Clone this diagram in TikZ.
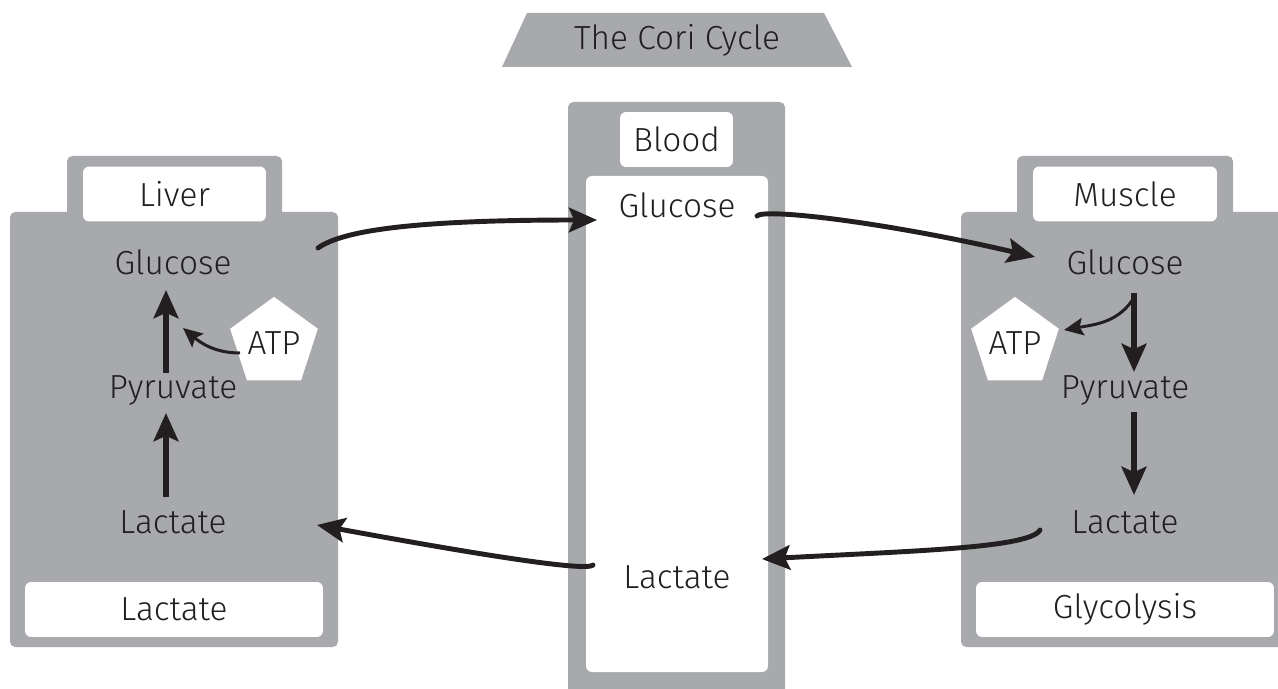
\documentclass[tikz,border=0pt]{standalone}
\usepackage{fontspec}
\setmainfont{Fira Sans Light}
\usetikzlibrary{arrows.meta,shapes.geometric,calc}
\definecolor{panel}{HTML}{A7A9AC}
\definecolor{ink}{HTML}{231F20}

\begin{document}
\begin{tikzpicture}[x=0.02cm,y=-0.02cm,
  txt/.style={text=ink,font=\fontsize{19}{22}\selectfont,inner sep=0pt},
  tag/.style={txt,fill=white,rounded corners=3.5pt,minimum height=1.1cm},
  atp/.style={txt,regular polygon,regular polygon sides=5,fill=white,minimum size=1.72cm},
  flow/.style={draw=ink,line width=3.4pt,-{Stealth[length=16pt,width=14pt,inset=3pt]}},
  link/.style={draw=ink,line width=2.8pt,line cap=round,-{Stealth[length=16pt,width=14pt,inset=3pt]}},
  side/.style={draw=ink,line width=1.7pt,-{Stealth[length=11pt,width=10pt,inset=2pt]}}]
  \useasboundingbox (0,0) rectangle (1278,689);
  \begin{scope}
    \clip (0,0) rectangle (1278,689);
    % grey panels
    \fill [panel] (502,67) -- (527,13) -- (824,13) -- (852,67) -- cycle;
    \fill [panel,rounded corners=3pt] (67,156) rectangle (282,260);
    \fill [panel,rounded corners=3pt] (10,212) rectangle (338,647);
    \fill [panel,rounded corners=3pt] (568,102) rectangle (785,720);
    \fill [white,rounded corners=3.5pt] (586,176) rectangle (768,672);
    \fill [panel,rounded corners=3pt] (1017,156) rectangle (1233,260);
    \fill [panel,rounded corners=3pt] (961,212) rectangle (1300,647);
  \end{scope}

  \node [txt] (title) at (677,40) {The Cori Cycle};

  % liver
  \node [tag,minimum width=3.66cm] (liver) at (174.5,194) {Liver};
  \node [tag,minimum width=5.96cm] (llabel) at (174,609.5) {Lactate};
  \node [txt] (lglu) at (173,262) {Glucose};
  \node [txt] (lpyr) at (173,390) {Pyruvate};
  \node [txt] (llac) at (173,522) {Lactate};
  \node [atp] (latp) at (274,343) {ATP};

  % blood
  \node [tag,minimum width=2.26cm] (blood) at (676.5,139.5) {Blood};
  \node [txt] (bglu) at (677,205) {Glucose};
  \node [txt] (blac) at (677,577) {Lactate};

  % muscle
  \node [tag,minimum width=3.68cm] (muscle) at (1125,194) {Muscle};
  \node [tag,minimum width=5.96cm] (mlabel) at (1125,609.5) {Glycolysis};
  \node [txt] (mglu) at (1125,262) {Glucose};
  \node [txt] (mpyr) at (1125,390) {Pyruvate};
  \node [txt] (mlac) at (1125,522) {Lactate};
  \node [atp] (matp) at (1015,343) {ATP};

  % liver steps
  \draw [flow] ($(llac)+(-7,-25)$) -- ($(lpyr)+(-7,23)$);
  \draw [flow] ($(lpyr)+(-7,-17)$) -- ($(lglu)+(-7,28)$);
  \draw [side] ($(latp)+(-34,10)$) to [out=180,in=-40] ($(lglu)+(10,66)$);

  % muscle steps
  \draw [flow] ($(mglu)+(9,31)$) -- ($(mpyr)+(9,-18)$);
  \draw [flow] ($(mpyr)+(9,22)$) -- ($(mlac)+(9,-27)$);
  \draw [side] ($(mglu)+(10,34)$) to [out=240,in=10] ($(matp)+(49,-13)$);

  % through the blood
  \draw [link] ($(lglu)+(145,-14)$) .. controls +(25,-18) and +(-180,0) .. ($(bglu)+(-80,15)$);
  \draw [link] ($(bglu)+(80,11)$) .. controls +(6,-8) and +(-150,-35) .. ($(mglu)+(-90,-5)$);
  \draw [link] ($(mlac)+(-85,8)$) .. controls +(-10,18) and +(150,-8) .. ($(blac)+(85,-18)$);
  \draw [link] ($(blac)+(-84,-12)$) .. controls +(-8,8) and +(120,22) .. ($(llac)+(144,3)$);
\end{tikzpicture}
\end{document}
